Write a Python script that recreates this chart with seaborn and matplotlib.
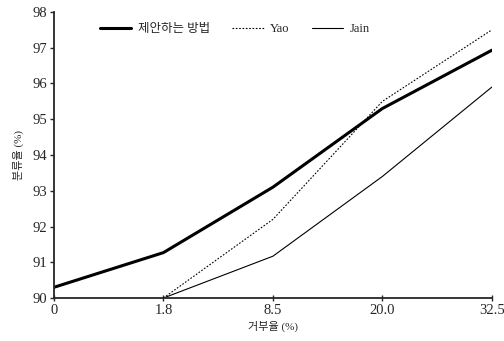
import matplotlib
matplotlib.use('Agg')
import matplotlib.pyplot as plt
import seaborn as sns
import pandas as pd
import numpy as np

sns.set_style('ticks')
plt.rcParams['font.family'] = ['Liberation Serif', 'Noto Sans CJK KR']
plt.rcParams['axes.unicode_minus'] = False

# 거부율 (x축 눈금) --------------------------------------------------
reject = ['0', '1.8', '8.5', '20.0', '32.5']

# 분류율 ---------------------------------------------------------------
proposed = [90.3, 91.27, 93.1, 95.3, 96.93]
yao = [np.nan, 90.0, 92.2, 95.5, 97.5]
jain = [np.nan, 90.0, 91.17, 93.4, 95.9]

names = ['제안하는 방법', 'Yao', 'Jain']
styles = {'제안하는 방법': ('-', 2.2), 'Yao': ((0, (1.5, 1.5)), 0.8), 'Jain': ('-', 0.8)}

df = pd.DataFrame({'reject': reject * 3,
                   'rate': proposed + yao + jain,
                   'method': [n for n in names for _ in reject]})

fig = plt.figure(figsize=(5.04, 3.41), dpi=100)
ax = fig.add_axes([0.107, 0.126, 0.869, 0.839])

for n in names:
    ls, lw = styles[n]
    sns.lineplot(data=df[df.method == n], x='reject', y='rate', ax=ax,
                 color='black', linestyle=ls, linewidth=lw, label=n)

ax.set_xlim(0, 4)
ax.set_ylim(90, 98)
ax.set_yticks(range(90, 99))
sns.despine(ax=ax)
ax.spines['left'].set_linewidth(1.3)
ax.spines['bottom'].set_linewidth(1.3)
ax.tick_params(axis='y', direction='out', length=3, width=1, labelsize=10.5, pad=2)
ax.tick_params(axis='x', direction='inout', length=4, width=1, labelsize=10.5, pad=2)

ax.set_xlabel('거부율 (%)', fontsize=8, labelpad=3)
ax.set_ylabel('분류율 (%)', fontsize=8, labelpad=6)

ax.legend(loc='upper left', bbox_to_anchor=(0.08, 1.0), ncol=3, frameon=False,
          fontsize=9, handlelength=2.5, columnspacing=1.8, handletextpad=0.5)

plt.savefig('out.png', dpi=100)
